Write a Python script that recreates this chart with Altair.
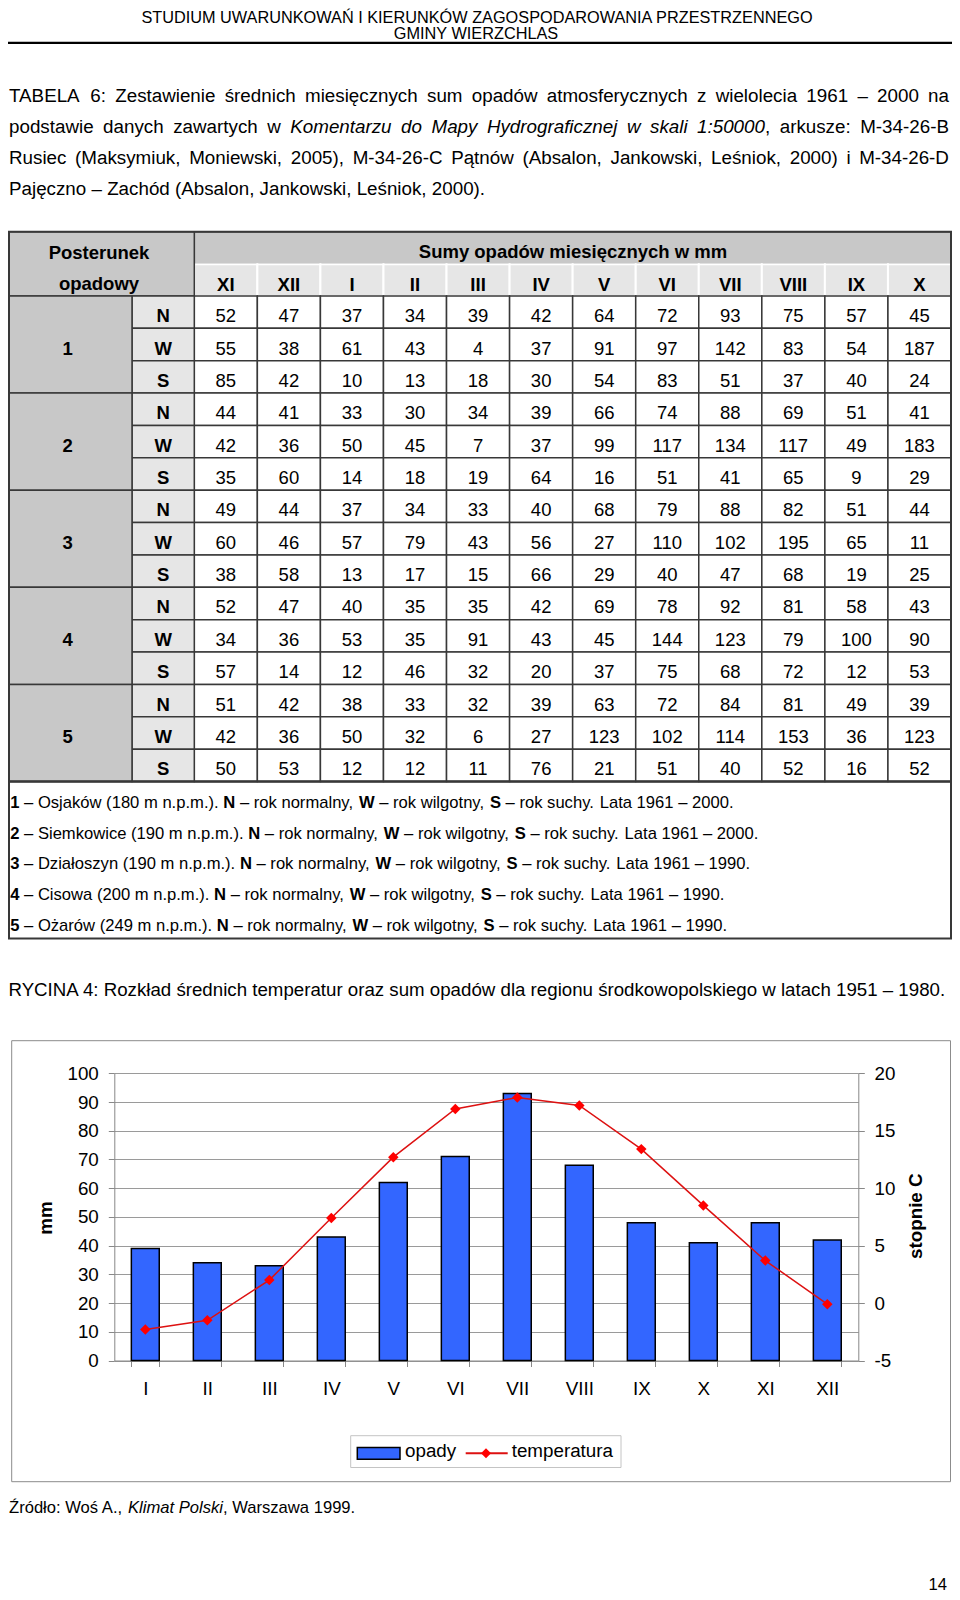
import altair as alt
import pandas as pd

# ------------------------------------------------------------------ data
page_header = ["STUDIUM UWARUNKOWAŃ I KIERUNKÓW ZAGOSPODAROWANIA PRZESTRZENNEGO",
               "GMINY WIERZCHLAS"]

caption_line1 = "TABELA 6: Zestawienie średnich miesięcznych sum opadów atmosferycznych z wielolecia 1961 – 2000 na"
caption_line2_a = "podstawie danych zawartych w"
caption_line2_b = "Komentarzu do Mapy Hydrograficznej w skali 1:50000"   # italic
caption_line2_c = "arkusze: M-34-26-B"
caption_line3 = "Rusiec (Maksymiuk, Moniewski, 2005), M-34-26-C Pątnów (Absalon, Jankowski, Leśniok, 2000) i M-34-26-D"
caption_line4 = "Pajęczno – Zachód (Absalon, Jankowski, Leśniok, 2000)."

table_head_1 = "Posterunek"
table_head_2 = "opadowy"
table_head_3 = "Sumy opadów miesięcznych w mm"
table_months = ["XI", "XII", "I", "II", "III", "IV", "V", "VI", "VII", "VIII", "IX", "X"]
stations = ["1", "2", "3", "4", "5"]
year_types = ["N", "W", "S"]

st1_N = [52, 47, 37, 34, 39, 42, 64, 72, 93, 75, 57, 45]
st1_W = [55, 38, 61, 43, 4, 37, 91, 97, 142, 83, 54, 187]
st1_S = [85, 42, 10, 13, 18, 30, 54, 83, 51, 37, 40, 24]
st2_N = [44, 41, 33, 30, 34, 39, 66, 74, 88, 69, 51, 41]
st2_W = [42, 36, 50, 45, 7, 37, 99, 117, 134, 117, 49, 183]
st2_S = [35, 60, 14, 18, 19, 64, 16, 51, 41, 65, 9, 29]
st3_N = [49, 44, 37, 34, 33, 40, 68, 79, 88, 82, 51, 44]
st3_W = [60, 46, 57, 79, 43, 56, 27, 110, 102, 195, 65, 11]
st3_S = [38, 58, 13, 17, 15, 66, 29, 40, 47, 68, 19, 25]
st4_N = [52, 47, 40, 35, 35, 42, 69, 78, 92, 81, 58, 43]
st4_W = [34, 36, 53, 35, 91, 43, 45, 144, 123, 79, 100, 90]
st4_S = [57, 14, 12, 46, 32, 20, 37, 75, 68, 72, 12, 53]
st5_N = [51, 42, 38, 33, 32, 39, 63, 72, 84, 81, 49, 39]
st5_W = [42, 36, 50, 32, 6, 27, 123, 102, 114, 153, 36, 123]
st5_S = [50, 53, 12, 12, 11, 76, 21, 51, 40, 52, 16, 52]

station_names = ["Osjaków (180 m n.p.m.).", "Siemkowice (190 m n.p.m.).",
                 "Działoszyn (190 m n.p.m.).", "Cisowa (200 m n.p.m.).",
                 "Ożarów (249 m n.p.m.)."]
station_years = ["1961 – 2000.", "1961 – 2000.", "1961 – 1990.", "1961 – 1990.", "1961 – 1990."]
type_names = ["rok normalny,", "rok wilgotny,", "rok suchy."]

figure_caption = "RYCINA 4: Rozkład średnich temperatur oraz sum opadów dla regionu środkowopolskiego w latach 1951 – 1980."
chart_months = ["I", "II", "III", "IV", "V", "VI", "VII", "VIII", "IX", "X", "XI", "XII"]
opady = [39, 34, 33, 43, 62, 71, 93, 68, 48, 41, 48, 42]
temperatura = [-2.3, -1.5, 2.0, 7.4, 12.7, 16.9, 17.9, 17.2, 13.4, 8.5, 3.7, -0.1]
legend_labels = ["opady", "temperatura"]
y_title_left = "mm"
y_title_right = "stopnie C"

source_a = "Źródło: Woś A.,"
source_b = "Klimat Polski"
source_c = ", Warszawa 1999."
page_number = "14"

# ------------------------------------------------------------------ helpers
FONT = "Liberation Sans"
DARK = "#383838"
GRAY1 = "#c8c8c8"
GRAY2 = "#e6e6e6"
W = 944
H = 1584

# Arial / Liberation Sans advance widths (1/1000 em) for text layout
AW = {c: 556 for c in "0123456789"}
AW.update({' ': 278, '(': 333, ')': 333, ',': 278, '-': 333, '.': 278, ':': 278, '–': 556})
AW.update(dict(A=667, B=667, C=722, D=722, E=667, F=611, G=778, H=722, I=278, J=500, K=667,
               L=556, M=833, N=722, O=778, P=667, Q=778, R=722, S=667, T=611, U=722, V=667,
               W=944, X=667, Y=667, Z=611))
AW.update(dict(a=556, b=556, c=500, d=556, e=556, f=278, g=556, h=556, i=222, j=222, k=500,
               l=222, m=833, n=556, o=556, p=556, q=556, r=333, s=500, t=278, u=556, v=500,
               w=722, x=500, y=500, z=500))
AW.update({'ą': 556, 'ć': 500, 'ę': 556, 'ł': 222, 'ń': 556, 'ó': 556, 'ś': 500, 'ź': 500,
           'ż': 500, 'Ł': 556, 'Ń': 722, 'Ó': 778, 'Ś': 667, 'Ź': 611, 'Ż': 611})


def tw(s, fs):
    return sum(AW.get(c, 556) for c in s) * fs / 1000.0


def pr(a, b):
    return [a - 8, b - 8]


def PX():
    return alt.Scale(domain=[0, 960], range=[-8, 952], nice=False, zero=False)


def PY():
    return alt.Scale(domain=[0, 1600], range=[-8, 1592], nice=False, zero=False)


items = []


def add(x, y, text, fs, w="normal", st="normal", al="left"):
    items.append(dict(x=x, y=y, text=text, fs=fs, w=w, st=st, al=al))


def add_segments(x, y, segs, fs):
    for text, w, st in segs:
        lead = len(text) - len(text.lstrip(" "))
        core = text.strip(" ")
        if core:
            add(x + tw(" " * lead, fs), y, core, fs, w, st)
        x += tw(text, fs)


def justify(words, x0, x1, y, fs):
    widths = [sum(tw(t, fs) for t, _ in wd) for wd in words]
    gap = (x1 - x0 - sum(widths)) / (len(words) - 1)
    x = x0
    for wd, wid in zip(words, widths):
        xx = x
        for t, st in wd:
            add(xx, y, t, fs, "normal", st)
            xx += tw(t, fs)
        x += wid + gap


# ------------------------------------------------------------------ page text
add(477, 18.3, page_header[0], 16.3, al="center")
add(476, 34.0, page_header[1], 16.3, al="center")

CFS = 18.8
justify([[(w, "normal")] for w in caption_line1.split()], 9, 949, 96.1, CFS)
justify([[(w, "normal")] for w in caption_line2_a.split()]
        + [[(w, "italic")] for w in caption_line2_b.split()[:-1]]
        + [[(caption_line2_b.split()[-1], "italic"), (",", "normal")]]
        + [[(w, "normal")] for w in caption_line2_c.split()], 9, 949, 127.2, CFS)
justify([[(w, "normal")] for w in caption_line3.split()], 9, 949, 158.3, CFS)
add(9, 189.4, caption_line4, CFS)

NFS = 16.6
for i in range(5):
    segs = [(stations[i], "bold", "normal"), (" – " + station_names[i] + " ", "normal", "normal")]
    for t in range(3):
        segs.append((year_types[t], "bold", "normal"))
        segs.append((" – " + type_names[t] + " ", "normal", "normal"))
    segs.append(("Lata " + station_years[i], "normal", "normal"))
    add_segments(10.2, 802.8 + 30.8 * i, segs, NFS)

add(8.5, 989.6, figure_caption, 18.7)
add_segments(9, 1508, [(source_a + " ", "normal", "normal"), (source_b, "normal", "italic"),
                       (source_c, "normal", "normal")], 16.6)
add(947, 1584.5, page_number, 16.6, al="right")

# table header texts
add(99, 252.8, table_head_1, 18.5, "bold", al="center")
add(99, 283.5, table_head_2, 18.5, "bold", al="center")
add(573, 252.0, table_head_3, 18.5, "bold", al="center")

# legend texts
add(405, 1451.1, legend_labels[0], 18.8)
add(511.7, 1451.1, legend_labels[1], 18.8)

df_items = pd.DataFrame(items)

layers = []


# ------------------------------------------------------------------ decorations (page)
def rect_layer(x, x2, y, y2, **kw):
    d = pd.DataFrame([dict(x=x, x2=x2, y=y, y2=y2)])
    return alt.Chart(d).mark_rect(**kw).encode(
        x=alt.X("x:Q", scale=PX(), axis=None), x2="x2:Q",
        y=alt.Y("y:Q", scale=PY(), axis=None), y2="y2:Q")


def rule_layer(x, x2, y, **kw):
    d = pd.DataFrame([dict(x=x, x2=x2, y=y)])
    return alt.Chart(d).mark_rule(**kw).encode(
        x=alt.X("x:Q", scale=PX(), axis=None), x2="x2:Q",
        y=alt.Y("y:Q", scale=PY(), axis=None))


layers.append(rule_layer(0, 960, 42.8, color="black", strokeWidth=2.3))

# ------------------------------------------------------------------ table
ROWS = list(range(15))
station_data = [[st1_N, st1_W, st1_S], [st2_N, st2_W, st2_S], [st3_N, st3_W, st3_S],
                [st4_N, st4_W, st4_S], [st5_N, st5_W, st5_S]]
recs, trecs, srecs = [], [], []
for s in range(5):
    srecs.append(dict(station=stations[s], c="s"))
    for t in range(3):
        r = s * 3 + t
        trecs.append(dict(row=r, typ=year_types[t], c="t"))
        for m, v in zip(table_months, station_data[s][t]):
            recs.append(dict(month=m, row=r, val=str(v)))
df_cells = pd.DataFrame(recs)
df_types = pd.DataFrame(trecs)
df_st = pd.DataFrame(srecs)
df_mh = pd.DataFrame([dict(month=m, y=264.3, y2=296.0, ty=284.5) for m in table_months])

TX0, TX1 = 194.3, 951.0
RY0, RY1 = 296.0, 781.5


def XMb():
    return alt.Scale(type="band", domain=table_months, range=pr(TX0, TX1), paddingInner=0, paddingOuter=0)


def XMp():
    return alt.Scale(type="point", domain=table_months, range=pr(TX0, TX1), padding=0.5)


def YRb():
    return alt.Scale(type="band", domain=ROWS, range=pr(RY0, RY1), paddingInner=0, paddingOuter=0)


def YRp():
    return alt.Scale(type="point", domain=ROWS, range=pr(RY0, RY1), padding=0.5)


# header cells
layers.append(rect_layer(TX0, TX1, 231.7, 264.3, fill=GRAY1, stroke=DARK, strokeWidth=1.5))
layers.append(alt.Chart(df_mh).mark_rect(fill=GRAY2, stroke="white", strokeWidth=2).encode(
    x=alt.X("month:N", scale=XMb(), axis=None),
    y=alt.Y("y:Q", scale=PY(), axis=None), y2="y2:Q"))
layers.append(alt.Chart(df_mh).mark_text(font=FONT, fontSize=18.5, fontWeight="bold",
                                         baseline="middle", color="black").encode(
    x=alt.X("month:N", scale=XMp(), axis=None),
    y=alt.Y("ty:Q", scale=PY(), axis=None), text="month:N"))
layers.append(rect_layer(3.3, TX0, 231.7, 296.0, fill=GRAY1, stroke=DARK, strokeWidth=1.5))

# data cells
layers.append(alt.Chart(df_cells).mark_rect(fill="white", stroke=DARK, strokeWidth=1.5).encode(
    x=alt.X("month:N", scale=XMb(), axis=None),
    y=alt.Y("row:O", scale=YRb(), axis=None)))
layers.append(alt.Chart(df_cells).mark_text(font=FONT, fontSize=18.5, baseline="middle",
                                            dy=4, color="black").encode(
    x=alt.X("month:N", scale=XMp(), axis=None),
    y=alt.Y("row:O", scale=YRp(), axis=None), text="val:N"))

# N / W / S column
layers.append(alt.Chart(df_types).mark_rect(fill=GRAY2, stroke=DARK, strokeWidth=1.5).encode(
    x=alt.X("c:N", scale=alt.Scale(type="band", domain=["t"], range=pr(132.0, TX0),
                                   paddingInner=0, paddingOuter=0), axis=None),
    y=alt.Y("row:O", scale=YRb(), axis=None)))
layers.append(alt.Chart(df_types).mark_text(font=FONT, fontSize=18.5, fontWeight="bold",
                                            baseline="middle", dy=4, color="black").encode(
    x=alt.X("c:N", scale=alt.Scale(type="point", domain=["t"], range=pr(132.0, TX0), padding=0.5), axis=None),
    y=alt.Y("row:O", scale=YRp(), axis=None), text="typ:N"))

# station column
layers.append(alt.Chart(df_st).mark_rect(fill=GRAY1, stroke=DARK, strokeWidth=1.5).encode(
    x=alt.X("c:N", scale=alt.Scale(type="band", domain=["s"], range=pr(3.3, 132.0),
                                   paddingInner=0, paddingOuter=0), axis=None),
    y=alt.Y("station:N", scale=alt.Scale(type="band", domain=stations, range=pr(RY0, RY1),
                                         paddingInner=0, paddingOuter=0), axis=None)))
layers.append(alt.Chart(df_st).mark_text(font=FONT, fontSize=18.5, fontWeight="bold",
                                         baseline="middle", dy=4, color="black").encode(
    x=alt.X("c:N", scale=alt.Scale(type="point", domain=["s"], range=pr(3.3, 132.0), padding=0.5), axis=None),
    y=alt.Y("station:N", scale=alt.Scale(type="point", domain=stations, range=pr(RY0, RY1), padding=0.5), axis=None),
    text="station:N"))

# outer border of table and notes box
layers.append(rect_layer(9, TX1, 231.7, 781.5, fillOpacity=0, stroke=DARK, strokeWidth=2))
layers.append(rect_layer(9, TX1, 781.5, 938.5, fillOpacity=0, stroke=DARK, strokeWidth=2))

# ------------------------------------------------------------------ climate chart
layers.append(rect_layer(11.7, 950.5, 1040.7, 1481.7, fillOpacity=0, stroke="#8c8c8c", strokeWidth=1))

df_clim = pd.DataFrame({"month": chart_months, "mm": opady, "temp": temperatura,
                        "idx": list(range(12))})
PL, PR_, PB, PT = 114.3, 858.3, 1360.5, 1073.3

AX = dict(labelFont=FONT, labelFontSize=18.8, labelColor="black", titleFont=FONT,
          titleFontSize=18.8, titleFontWeight="bold", titleColor="black",
          tickColor="#888888", domainColor="#888888", tickSize=6)

x_axis = alt.Axis(orient="bottom", offset=(PB - 8) - H, tickBand="extent", labelAngle=0,
                  labelPadding=13, title=None, grid=False, **AX)
y_axis_left = alt.Axis(orient="left", offset=-(PL - 8), values=list(range(0, 101, 10)),
                       grid=True, gridColor="#9a9a9a", gridWidth=1, labelPadding=10,
                       title=y_title_left, titleAngle=270, titleX=(45 - 8) - (PL - 8),
                       titleY=1217.5 - 8, titleAlign="center", titleBaseline="middle", **AX)
y_axis_right = alt.Axis(orient="right", offset=(PR_ - 8) - W, values=[-5, 0, 5, 10, 15, 20],
                        labelExpr="'' + datum.value",
                        grid=False, labelPadding=9.7, title=y_title_right, titleAngle=270,
                        titleX=(915 - 8) - (PR_ - 8), titleY=1215.7 - 8, titleAlign="center",
                        titleBaseline="middle", **AX)

bars = alt.Chart(df_clim).mark_bar(fill="#3366ff", stroke="black", strokeWidth=1.5).encode(
    x=alt.X("month:N", scale=alt.Scale(type="band", domain=chart_months, range=pr(PL, PR_),
                                       paddingInner=0.55, paddingOuter=0.275), axis=x_axis),
    y=alt.Y("mm:Q", scale=alt.Scale(domain=[0, 100], range=pr(PB, PT), nice=False, zero=True),
            axis=y_axis_left))
layers.append(bars)


def XCp():
    return alt.Scale(type="point", domain=chart_months, range=pr(PL, PR_), padding=0.5)


def YT():
    return alt.Scale(domain=[-5, 20], range=pr(PB, PT), nice=False, zero=False)


layers.append(alt.Chart(df_clim).mark_line(color="#dd1111", strokeWidth=1.5).encode(
    x=alt.X("month:N", scale=XCp(), axis=None),
    y=alt.Y("temp:Q", scale=YT(), axis=y_axis_right),
    order="idx:Q"))
layers.append(alt.Chart(df_clim).mark_point(shape="diamond", size=110, filled=True,
                                            color="#ff0000", opacity=1).encode(
    x=alt.X("month:N", scale=XCp(), axis=None),
    y=alt.Y("temp:Q", scale=YT(), axis=None)))

# legend
layers.append(rect_layer(350.7, 621.0, 1435.7, 1467.5, fill="white", stroke="#c4c4c4", strokeWidth=1))
layers.append(rect_layer(357.3, 400.0, 1447.5, 1459.3, fill="#3366ff", stroke="black", strokeWidth=1.5))
layers.append(rule_layer(465.7, 507.7, 1453.3, color="#dd1111", strokeWidth=2))
layers.append(alt.Chart(pd.DataFrame([dict(x=486.0, y=1453.3)])).mark_point(
    shape="diamond", size=100, filled=True, color="#ff0000", opacity=1).encode(
    x=alt.X("x:Q", scale=PX(), axis=None), y=alt.Y("y:Q", scale=PY(), axis=None)))

# ------------------------------------------------------------------ all free text
for (w, st, al), g in df_items.groupby(["w", "st", "al"]):
    layers.append(alt.Chart(g.reset_index(drop=True)).mark_text(
        font=FONT, fontWeight=w, fontStyle=st, align=al, baseline="middle", color="black").encode(
        x=alt.X("x:Q", scale=PX(), axis=None),
        y=alt.Y("y:Q", scale=PY(), axis=None),
        text="text:N",
        size=alt.Size("fs:Q", scale=None)))

chart = alt.layer(*layers).resolve_scale(x="independent", y="independent").properties(
    width=W, height=H, padding=0, autosize=alt.AutoSizeParams(type="none"),
    background="white").configure_view(stroke=None)

chart.save("out.html", embed_options={"renderer": "svg", "actions": False})
